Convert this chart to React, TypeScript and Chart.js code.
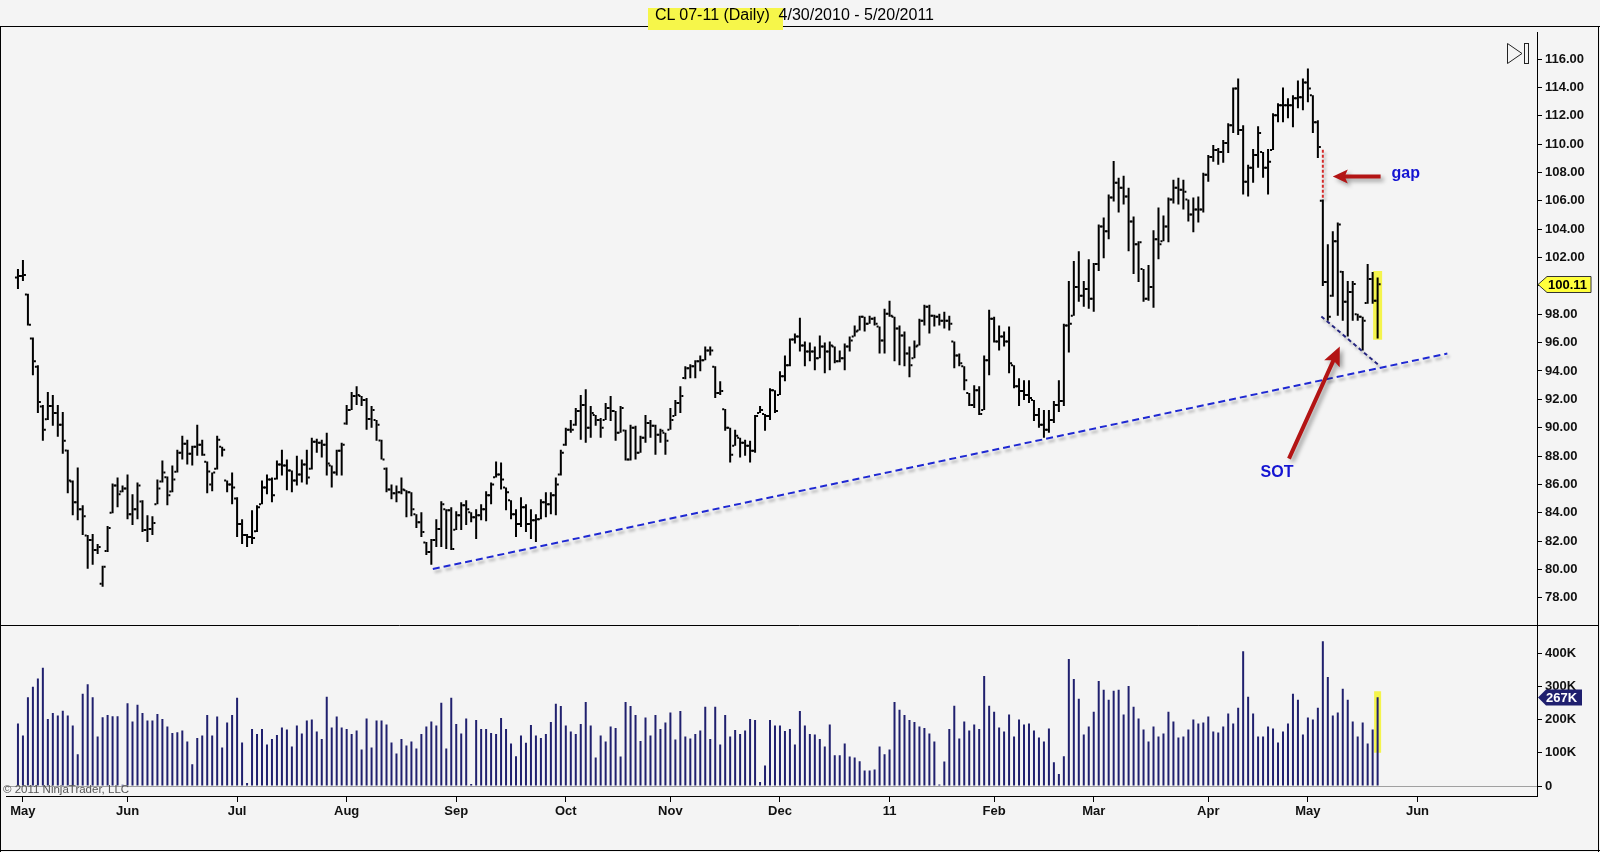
import { useEffect, useRef } from "react";
import { Chart, registerables } from "chart.js";

Chart.register(...registerables);

const FONT = "'Liberation Sans', Arial, sans-serif";
Chart.defaults.font.family = FONT;

// CL 07-11 daily bars, 4/30/2010 - 5/20/2011 (one entry per session, holidays included)
const highs = [
  101.19, 101.82, 99.44, 96.36, 94.4, 91.6, 92.51, 92.3, 91.6, 91.11,
  88.45, 86.28, 87.19, 84.53, 82.43, 82.5, 81.8, 80.26, 83.06, 86.07,
  86.49, 85.93, 86.7, 85.3, 86.14, 84.88, 83.83, 83.76, 86.35, 87.68,
  86.56, 87.33, 88.45, 89.43, 89.15, 88.73, 90.2, 89.15, 87.61, 86.84,
  89.43, 88.66, 86.28, 86.84, 85.09, 83.55, 82.5, 84.18, 84.53, 86.28,
  86.7, 86.49, 87.68, 88.45, 87.75, 86.98, 88.03, 87.75, 88.45, 89.29,
  89.22, 89.15, 89.64, 87.33, 88.45, 88.94, 91.6, 92.51, 92.93, 92.23,
  92.09, 91.53, 90.55, 89.15, 87.19, 86.0, 85.93, 86.49, 85.58, 85.44,
  83.9, 84.04, 81.94, 82.15, 83.55, 84.81, 84.25, 84.39, 84.11, 84.74,
  84.88, 84.04, 84.25, 84.6, 85.51, 86.14, 87.61, 87.54, 85.79, 84.88,
  84.25, 85.09, 84.6, 84.25, 83.9, 84.95, 85.44, 85.44, 86.49, 88.45,
  89.99, 90.55, 91.39, 92.3, 92.72, 91.53, 90.9, 90.69, 91.74, 92.23,
  91.18, 91.53, 89.85, 90.2, 90.13, 89.43, 90.9, 90.55, 90.2, 89.92,
  89.64, 91.39, 91.95, 92.93, 94.33, 94.47, 94.75, 95.1, 95.73, 95.73,
  94.33, 93.28, 91.32, 89.99, 89.85, 89.29, 89.15, 89.08, 90.9, 91.53,
  90.97, 92.79, 92.65, 93.98, 95.1, 96.29, 96.64, 97.76, 96.08, 96.01,
  95.73, 96.5, 96.01, 96.08, 95.73, 95.45, 95.94, 96.43, 97.2, 97.9,
  97.83, 97.9, 97.83, 97.13, 98.39, 98.95, 97.83, 97.2, 96.78, 95.73,
  96.15, 97.69, 98.67, 98.67, 97.97, 98.04, 98.18, 97.9, 96.08, 95.24,
  94.33, 92.44, 93.0, 92.93, 95.1, 98.32, 97.83, 97.2, 96.78, 97.13,
  94.4, 93.49, 93.35, 93.35, 91.95, 91.39, 91.25, 91.25, 91.88, 93.35,
  97.34, 100.35, 101.75, 102.45, 100.35, 101.89, 101.61, 104.34, 104.83, 106.44,
  108.82, 107.63, 107.77, 106.93, 104.9, 103.15, 101.19, 101.47, 103.92, 105.53,
  104.97, 106.23, 107.49, 107.63, 107.49, 106.09, 106.23, 106.3, 107.98, 109.24,
  109.94, 109.73, 110.29, 111.48, 114.0, 114.63, 111.34, 108.54, 109.66, 111.27,
  109.45, 109.66, 112.18, 112.88, 114.0, 113.23, 113.44, 114.49, 114.63, 115.33,
  113.44, 111.69, 106.09, 102.94, 103.85, 104.48, 101.05, 100.35, 100.35, 98.04,
  97.83, 101.54, 100.98, 100.6,
];

const lows = [
  99.79, 100.35, 97.2, 93.7, 91.04, 89.08, 90.55, 90.13, 89.36, 88.17,
  85.37, 83.83, 83.48, 82.43, 80.05, 80.33, 81.1, 78.79, 81.24, 83.97,
  84.39, 85.44, 83.55, 83.13, 83.55, 82.64, 81.94, 82.43, 84.6, 86.14,
  84.53, 85.44, 86.84, 87.75, 87.4, 87.33, 88.03, 88.03, 85.37, 85.51,
  87.05, 87.96, 85.44, 84.6, 82.29, 81.8, 81.59, 81.8, 82.64, 84.6,
  85.3, 84.74, 86.35, 86.63, 85.58, 85.44, 85.93, 86.14, 86.0, 87.05,
  88.24, 87.89, 86.63, 85.79, 86.63, 86.63, 90.2, 91.25, 91.6, 91.53,
  89.85, 89.99, 89.08, 87.75, 85.44, 84.95, 84.74, 85.3, 83.69, 83.76,
  82.92, 82.29, 81.03, 80.33, 81.59, 81.59, 81.45, 81.38, 82.78, 82.78,
  83.13, 83.34, 82.15, 83.48, 83.41, 84.6, 86.49, 85.65, 84.18, 83.55,
  82.29, 82.99, 82.64, 82.15, 81.94, 83.55, 83.69, 83.9, 83.83, 86.63,
  88.73, 89.64, 90.13, 89.15, 88.94, 89.29, 90.13, 89.29, 90.55, 90.48,
  89.08, 89.64, 87.68, 87.68, 87.75, 88.24, 88.94, 89.29, 88.1, 88.94,
  88.1, 89.85, 90.83, 91.04, 93.42, 93.49, 93.49, 93.98, 94.75, 95.1,
  92.09, 92.3, 89.78, 87.54, 88.73, 87.89, 88.03, 87.54, 88.24, 91.04,
  89.78, 90.55, 91.04, 92.3, 93.28, 94.33, 95.94, 95.38, 94.33, 94.68,
  94.05, 94.89, 93.84, 94.05, 94.54, 94.61, 94.05, 95.38, 96.43, 96.85,
  96.78, 97.34, 97.2, 95.24, 95.24, 97.83, 94.68, 94.4, 94.33, 93.56,
  94.89, 95.8, 97.2, 96.64, 97.13, 97.2, 96.99, 96.85, 94.19, 94.33,
  92.65, 91.53, 91.39, 90.9, 91.25, 93.7, 96.01, 95.45, 95.73, 93.84,
  92.79, 91.53, 91.95, 91.74, 90.48, 89.99, 89.29, 89.64, 90.34, 91.11,
  91.53, 95.31, 97.9, 98.88, 98.53, 98.39, 98.18, 101.05, 101.96, 103.29,
  105.95, 105.18, 105.74, 102.45, 100.84, 100.28, 98.88, 98.95, 98.46, 101.89,
  103.15, 103.08, 105.81, 105.74, 105.39, 104.55, 103.78, 104.48, 105.18, 107.35,
  108.75, 108.54, 108.68, 109.38, 110.78, 110.64, 106.44, 106.3, 107.28, 108.33,
  107.63, 106.44, 109.59, 111.55, 111.55, 111.83, 111.2, 112.53, 112.39, 112.95,
  110.78, 109.03, 100.0, 97.55, 99.23, 97.9, 97.55, 96.43, 97.55, 97.55,
  95.45, 98.74, 98.74, 96.29,
];

const opens = [
  100.6, 100.7, 99.4, 96.3, 94.3, 91.5, 90.6, 91.53, 91.04, 90.2,
  88.4, 86.2, 84.74, 84.25, 82.4, 82.08, 81.38, 79.0, 81.3, 84.0,
  85.93, 85.5, 85.72, 83.9, 84.25, 84.8, 82.78, 82.85, 84.6, 86.2,
  86.5, 85.5, 86.9, 88.24, 88.87, 88.17, 88.66, 88.8, 87.6, 86.0,
  87.1, 88.66, 86.28, 86.0, 85.0, 83.2, 82.43, 82.29, 82.7, 84.6,
  85.79, 86.35, 86.4, 87.4, 87.33, 86.98, 86.28, 86.7, 87.4, 87.1,
  89.01, 88.94, 88.8, 87.33, 86.84, 88.38, 90.3, 91.25, 92.23, 92.23,
  91.95, 90.62, 90.55, 89.1, 87.1, 85.65, 85.37, 85.44, 85.58, 85.44,
  83.9, 83.34, 81.9, 81.24, 82.08, 82.85, 84.25, 84.18, 82.8, 83.83,
  84.53, 84.04, 83.69, 83.83, 84.25, 85.23, 86.5, 86.7, 85.79, 84.88,
  83.9, 83.2, 84.39, 83.2, 83.48, 83.55, 84.74, 84.6, 85.23, 86.7,
  88.8, 89.85, 90.2, 91.18, 91.6, 89.99, 90.9, 90.55, 90.55, 91.39,
  91.18, 89.64, 89.8, 87.75, 89.99, 88.24, 89.29, 90.34, 90.13, 89.5,
  89.64, 89.85, 90.83, 91.74, 93.5, 94.19, 94.33, 94.68, 94.75, 95.45,
  94.3, 92.44, 91.3, 89.99, 88.73, 89.29, 88.94, 88.73, 88.38, 91.04,
  90.97, 90.83, 92.65, 92.3, 93.63, 94.4, 96.22, 96.43, 95.8, 95.38,
  95.38, 94.89, 95.73, 95.38, 95.73, 94.68, 94.89, 95.73, 96.43, 96.85,
  97.83, 97.34, 97.69, 97.13, 96.15, 98.04, 97.83, 96.99, 96.5, 95.24,
  94.89, 95.8, 97.55, 98.53, 97.9, 97.83, 97.55, 97.55, 96.08, 95.1,
  94.33, 92.44, 91.6, 92.65, 91.25, 94.75, 97.69, 96.08, 96.43, 96.08,
  94.4, 92.93, 92.58, 92.3, 91.95, 90.9, 90.2, 89.85, 90.55, 91.6,
  91.88, 97.2, 97.9, 99.93, 99.3, 99.79, 99.09, 101.54, 104.2, 103.85,
  106.23, 107.28, 106.93, 106.3, 104.55, 102.94, 101.19, 99.09, 99.93, 103.29,
  103.15, 104.2, 106.09, 106.93, 106.79, 106.09, 105.04, 105.39, 105.39, 107.84,
  109.1, 109.59, 109.45, 110.08, 111.34, 113.93, 110.99, 107.35, 108.33, 109.24,
  109.45, 108.33, 109.59, 112.04, 112.74, 112.74, 112.74, 113.23, 113.3, 114.35,
  113.44, 111.55, 106.0, 100.28, 99.3, 103.15, 101.0, 98.88, 99.58, 98.0,
  97.83, 98.8, 100.49, 98.95,
];

const closes = [
  100.7, 100.77, 97.27, 94.68, 91.81, 89.85, 91.53, 91.04, 90.2, 89.08,
  86.28, 84.74, 84.25, 83.76, 82.08, 81.38, 81.59, 80.19, 82.92, 85.93,
  85.3, 85.72, 83.9, 84.25, 85.93, 82.78, 82.85, 83.27, 85.72, 86.84,
  85.23, 86.35, 88.24, 88.87, 88.17, 88.66, 88.8, 88.1, 86.91, 86.84,
  89.15, 88.45, 86.0, 85.79, 83.2, 82.43, 82.29, 82.22, 84.39, 85.79,
  86.35, 85.23, 87.4, 87.33, 86.98, 86.28, 86.7, 87.4, 86.49, 89.01,
  88.94, 88.8, 87.47, 86.84, 88.38, 88.8, 91.25, 92.23, 92.3, 91.95,
  90.62, 91.25, 90.2, 87.75, 85.65, 85.37, 85.44, 85.65, 85.44, 84.25,
  83.34, 82.64, 81.24, 82.08, 82.85, 84.6, 84.18, 81.45, 83.83, 84.53,
  84.25, 83.69, 83.83, 84.25, 85.23, 86.0, 86.7, 86.35, 85.44, 83.9,
  83.2, 84.39, 83.2, 83.48, 83.55, 84.74, 84.6, 85.23, 86.0, 88.24,
  89.85, 89.85, 91.18, 91.6, 89.99, 91.04, 90.55, 89.99, 91.39, 91.18,
  89.64, 91.39, 87.75, 89.99, 88.24, 89.29, 90.34, 90.13, 89.5, 89.78,
  89.08, 90.55, 91.74, 92.23, 94.19, 94.33, 94.68, 94.75, 95.45, 95.45,
  92.44, 92.58, 89.99, 88.1, 89.43, 88.94, 88.73, 88.38, 90.83, 91.25,
  90.83, 92.65, 91.18, 93.63, 94.4, 96.22, 96.43, 95.8, 95.38, 95.38,
  94.89, 95.73, 95.38, 95.8, 94.68, 94.89, 95.73, 96.15, 96.78, 97.83,
  97.34, 97.69, 97.34, 96.15, 98.04, 97.9, 96.99, 96.5, 95.24, 94.4,
  95.73, 97.55, 98.53, 97.9, 97.83, 97.55, 97.55, 97.34, 95.1, 94.54,
  93.35, 91.6, 92.65, 90.97, 94.75, 97.69, 96.08, 96.43, 96.08, 94.54,
  92.93, 92.58, 92.3, 92.09, 90.9, 90.2, 89.85, 90.55, 91.6, 91.88,
  97.2, 97.34, 99.93, 99.3, 99.79, 99.09, 101.54, 104.2, 103.85, 106.23,
  107.28, 106.93, 106.3, 104.55, 102.94, 103.08, 99.09, 99.93, 103.29, 102.94,
  104.2, 106.09, 106.93, 106.79, 106.65, 105.04, 105.39, 105.39, 107.84, 109.1,
  109.59, 109.45, 110.08, 111.34, 113.93, 110.99, 107.35, 108.33, 109.24, 110.78,
  108.33, 108.75, 112.04, 112.74, 112.74, 112.74, 113.23, 113.3, 114.35, 113.93,
  111.55, 109.8, 100.28, 97.83, 103.15, 104.34, 98.88, 99.58, 100.14, 97.83,
  97.55, 100.49, 98.95, 100.11,
];

// volume in thousands of contracts
const volumesK = [
  188, 152, 267, 299, 324, 356, 202, 220, 212, 227,
  212, 182, 96, 278, 306, 267, 149, 207, 214, 210,
  210, 4, 249, 194, 245, 220, 197, 197, 217, 202,
  179, 160, 162, 167, 134, 66, 145, 152, 214, 152,
  209, 116, 191, 214, 266, 131, 9, 172, 157, 172,
  125, 142, 154, 176, 170, 119, 182, 158, 197, 200,
  164, 142, 269, 176, 209, 176, 172, 157, 167, 110,
  203, 116, 197, 197, 185, 131, 98, 142, 122, 134,
  113, 157, 179, 194, 182, 251, 113, 266, 187, 158,
  203, 6, 199, 172, 172, 160, 157, 205, 172, 128,
  90, 152, 130, 184, 152, 145, 157, 193, 248, 241,
  182, 164, 157, 187, 253, 182, 86, 152, 134, 179,
  175, 89, 253, 241, 214, 136, 206, 152, 214, 172,
  191, 221, 140, 226, 149, 143, 157, 167, 239, 142,
  239, 125, 214, 149, 169, 157, 167, 202, 199, 12,
  62, 199, 182, 182, 166, 172, 125, 226, 182, 157,
  155, 142, 119, 185, 93, 93, 128, 89, 86, 75,
  47, 47, 50, 119, 96, 110, 253, 230, 214, 199,
  193, 179, 175, 158, 134, 5, 74, 172, 242, 143,
  194, 167, 185, 172, 331, 242, 224, 176, 164, 215,
  149, 200, 185, 188, 167, 146, 134, 173, 72, 36,
  90, 382, 322, 263, 155, 179, 224, 316, 290, 260,
  287, 290, 215, 301, 239, 203, 170, 134, 179, 149,
  158, 224, 194, 146, 149, 170, 200, 188, 191, 209,
  164, 161, 179, 218, 188, 236, 406, 269, 218, 149,
  149, 179, 173, 131, 164, 188, 278, 260, 155, 206,
  200, 236, 436, 328, 212, 221, 293, 260, 194, 149,
  191, 128, 170, 267,
];

// first session of each month on the bar index axis
const monthStarts = [1, 22, 44, 66, 88, 110, 131, 153, 175, 196, 216, 239, 259, 281];
const monthLabels = ["May", "Jun", "Jul", "Aug", "Sep", "Oct", "Nov", "Dec", "11", "Feb", "Mar", "Apr", "May", "Jun"];

const priceTicks = [78, 80, 82, 84, 86, 88, 90, 92, 94, 96, 98, 100, 102, 104, 106, 108, 110, 112, 114, 116];
const volumeTicks = [0, 100000, 200000, 300000, 400000];

// drawings on the chart, in (bar index, price)
const supportLine = [{ x: 83.3, y: 80.03 }, { x: 287, y: 95.23 }];
const sotLine = [{ x: 261.7, y: 97.85 }, { x: 273.1, y: 94.45 }];
const gapLine = [{ x: 262, y: 109.6 }, { x: 262, y: 106.1 }];
const gapArrow = { from: { x: 273.6, y: 107.71 }, to: { x: 264, y: 107.71 } };
const sotArrow = { from: { x: 255.2, y: 87.82 }, to: { x: 265.4, y: 95.73 } };
const gapText = { x: 275.8, y: 107.9, text: "gap" };
const sotText = { x: 252.8, y: 86.84, text: "SOT" };

// yellow highlight behind the last bar
const lastPriceBand = [96.2, 101.05];
const lastVolumeBand = [100000, 285000];

const drawArrow = (ctx: any, x1: number, y1: number, x2: number, y2: number, shaft: number, headL: number, headW: number) => {
  const ang = Math.atan2(y2 - y1, x2 - x1);
  const len = Math.hypot(x2 - x1, y2 - y1);
  ctx.save();
  ctx.translate(x2, y2);
  ctx.rotate(ang);
  ctx.beginPath();
  ctx.moveTo(0, 0);
  ctx.lineTo(-headL, -headW / 2);
  ctx.lineTo(-headL * 0.85, -shaft / 2);
  ctx.lineTo(-len, -shaft / 2);
  ctx.lineTo(-len, shaft / 2);
  ctx.lineTo(-headL * 0.85, shaft / 2);
  ctx.lineTo(-headL, headW / 2);
  ctx.closePath();
  ctx.fill();
  ctx.restore();
};

const chartDecor = {
  id: "chartDecor",
  beforeDatasetDraw(chart: any, args: any) {
    const ds = chart.data.datasets[args.index];
    if (ds.shadow) {
      const c = chart.ctx;
      c.save();
      c.shadowColor = "rgba(0,0,0,0.3)";
      c.shadowBlur = 3;
      c.shadowOffsetX = 2;
      c.shadowOffsetY = 3;
    }
  },
  afterDatasetDraw(chart: any, args: any) {
    if (chart.data.datasets[args.index].shadow) chart.ctx.restore();
  },
  afterDatasetsDraw(chart: any) {
    const { ctx, scales } = chart;
    const px = (v: number) => scales.x.getPixelForValue(v);
    const py = (v: number) => scales.y.getPixelForValue(v);
    ctx.save();
    ctx.shadowColor = "rgba(0,0,0,0.35)";
    ctx.shadowBlur = 4;
    ctx.shadowOffsetX = 3;
    ctx.shadowOffsetY = 3;
    ctx.fillStyle = "#b31414";
    drawArrow(ctx, px(gapArrow.from.x), py(gapArrow.from.y), px(gapArrow.to.x), py(gapArrow.to.y), 4, 15, 14);
    drawArrow(ctx, px(sotArrow.from.x), py(sotArrow.from.y), px(sotArrow.to.x), py(sotArrow.to.y), 4, 19, 17);
    ctx.restore();

    ctx.save();
    ctx.fillStyle = "#1414d2";
    ctx.font = `bold 16px ${FONT}`;
    ctx.textBaseline = "middle";
    ctx.textAlign = "left";
    ctx.fillText(gapText.text, px(gapText.x), py(gapText.y));
    ctx.textAlign = "center";
    ctx.fillText(sotText.text, px(sotText.x), py(sotText.y));
    ctx.restore();
  },
  afterDraw(chart: any) {
    const { ctx, chartArea, scales } = chart;
    const W = chart.width;
    const H = chart.height;
    const last = closes.length - 1;
    ctx.save();
    // panel frames
    ctx.strokeStyle = "#000";
    ctx.lineWidth = 1;
    ctx.beginPath();
    ctx.moveTo(0, 0.5);
    ctx.lineTo(W, 0.5);
    ctx.moveTo(0.5, 0);
    ctx.lineTo(0.5, H);
    ctx.moveTo(W - 1.5, 0);
    ctx.lineTo(W - 1.5, H);
    ctx.moveTo(0, H - 1.5);
    ctx.lineTo(W, H - 1.5);
    const sep = Math.round(scales.yv.top) + 0.5;
    ctx.moveTo(0, sep);
    ctx.lineTo(W - 1.5, sep);
    ctx.stroke();

    // "scroll to end" icon
    const R = chartArea.right;
    const T = chartArea.top;
    ctx.strokeStyle = "#222";
    ctx.beginPath();
    ctx.moveTo(R - 29.5, T + 11.5);
    ctx.lineTo(R - 29.5, T + 31.5);
    ctx.lineTo(R - 15, T + 21.5);
    ctx.closePath();
    ctx.stroke();
    ctx.strokeRect(R - 12.5, T + 11.5, 4, 20);

    // last price marker
    const ax = chartArea.right + 1;
    const yp = Math.round(scales.y.getPixelForValue(closes[last])) + 0.5;
    ctx.beginPath();
    ctx.moveTo(ax, yp);
    ctx.lineTo(ax + 9, yp - 8);
    ctx.lineTo(ax + 53, yp - 8);
    ctx.lineTo(ax + 53, yp + 8);
    ctx.lineTo(ax + 9, yp + 8);
    ctx.closePath();
    ctx.fillStyle = "#ffff3c";
    ctx.fill();
    ctx.strokeStyle = "#333";
    ctx.stroke();
    ctx.fillStyle = "#000";
    ctx.font = `bold 13px ${FONT}`;
    ctx.textBaseline = "middle";
    ctx.textAlign = "left";
    ctx.fillText(closes[last].toFixed(2), ax + 10, yp + 0.5);

    // last volume marker
    const yv = Math.round(scales.yv.getPixelForValue(volumesK[last] * 1000)) + 0.5;
    ctx.beginPath();
    ctx.moveTo(ax, yv);
    ctx.lineTo(ax + 8, yv - 8);
    ctx.lineTo(ax + 44, yv - 8);
    ctx.lineTo(ax + 44, yv + 8);
    ctx.lineTo(ax + 8, yv + 8);
    ctx.closePath();
    ctx.fillStyle = "#1f1f6e";
    ctx.fill();
    ctx.fillStyle = "#fff";
    ctx.fillText(`${volumesK[last]}K`, ax + 8, yv + 0.5);
    ctx.restore();
  },
};

const tickFont = { family: FONT, size: 13, weight: "bold" as const };

const App = () => {
  const canvasRef = useRef<HTMLCanvasElement | null>(null);

  useEffect(() => {
    if (!canvasRef.current) return;
    const idx = closes.map((_, i) => i);
    const last = closes.length - 1;

    const chart = new Chart(canvasRef.current, {
      type: "bar",
      data: {
        datasets: [
          {
            type: "bar",
            label: "Range",
            data: idx.map((i) => ({ x: i, y: [lows[i], highs[i]] })) as any,
            backgroundColor: "#000",
            barThickness: 2,
            grouped: false,
            inflateAmount: 0,
            yAxisID: "y",
            order: 1,
          },
          {
            type: "scatter",
            label: "Open",
            data: idx.map((i) => ({ x: i - 0.4, y: opens[i] })),
            pointStyle: "line",
            pointRadius: 1,
            borderColor: "#000",
            borderWidth: 2,
            yAxisID: "y",
            order: 1,
          },
          {
            type: "scatter",
            label: "Close",
            data: idx.map((i) => ({ x: i + 0.4, y: closes[i] })),
            pointStyle: "line",
            pointRadius: 1,
            borderColor: "#000",
            borderWidth: 2,
            yAxisID: "y",
            order: 1,
          },
          {
            type: "bar",
            label: "Volume",
            data: idx.map((i) => ({ x: i, y: volumesK[i] * 1000 })),
            backgroundColor: "#20206e",
            barThickness: 2,
            grouped: false,
            inflateAmount: 0,
            yAxisID: "yv",
            order: 1,
          },
          {
            type: "bar",
            label: "LastBar",
            data: [{ x: last, y: lastPriceBand }] as any,
            backgroundColor: "#f4f44c",
            barThickness: 9,
            grouped: false,
            inflateAmount: 0,
            yAxisID: "y",
            order: 5,
          },
          {
            type: "bar",
            label: "LastVol",
            data: [{ x: last, y: lastVolumeBand }] as any,
            backgroundColor: "#f4f44c",
            barThickness: 7,
            grouped: false,
            inflateAmount: 0,
            yAxisID: "yv",
            order: 5,
          },
          {
            type: "line",
            label: "Support",
            data: supportLine,
            borderColor: "#1e28d2",
            borderWidth: 2,
            borderDash: [7, 4],
            pointRadius: 0,
            fill: false,
            yAxisID: "y",
            order: 0,
            shadow: true,
          } as any,
          {
            type: "line",
            label: "SOT line",
            data: sotLine,
            borderColor: "#262680",
            borderWidth: 2,
            borderDash: [4, 3],
            pointRadius: 0,
            fill: false,
            yAxisID: "y",
            order: 0,
            shadow: true,
          } as any,
          {
            type: "line",
            label: "Gap",
            data: gapLine,
            borderColor: "#d42a2a",
            borderWidth: 2,
            borderDash: [3, 2],
            pointRadius: 0,
            fill: false,
            yAxisID: "y",
            order: 0,
            shadow: true,
          } as any,
        ],
      },
      options: {
        animation: false,
        responsive: false,
        maintainAspectRatio: false,
        events: [],
        layout: { padding: 0 },
        plugins: { legend: { display: false }, tooltip: { enabled: false } },
        scales: {
          y: {
            type: "linear",
            position: "right",
            stack: "panes",
            stackWeight: 598,
            min: 76.06,
            max: 117.91,
            afterBuildTicks: (s: any) => {
              s.ticks = priceTicks.map((v) => ({ value: v }));
            },
            afterFit: (s: any) => {
              s.width = 63;
              s.paddingTop = 0;
              s.paddingBottom = 0;
            },
            ticks: {
              autoSkip: false,
              callback: (v: any) => Number(v).toFixed(2),
              padding: 3,
              color: "#111",
              font: tickFont,
            },
            grid: { drawOnChartArea: false, tickLength: 5, tickColor: "#000", color: "#000" },
            border: { display: true, color: "#000" },
          },
          yv: {
            type: "linear",
            position: "right",
            stack: "panes",
            stackWeight: 172,
            min: -29850,
            max: 483600,
            afterBuildTicks: (s: any) => {
              s.ticks = volumeTicks.map((v) => ({ value: v }));
            },
            afterFit: (s: any) => {
              s.width = 63;
              s.paddingTop = 0;
              s.paddingBottom = 0;
            },
            ticks: {
              autoSkip: false,
              callback: (v: any) => (Number(v) === 0 ? "0" : `${Number(v) / 1000}K`),
              padding: 3,
              color: "#111",
              font: tickFont,
            },
            grid: {
              drawOnChartArea: true,
              tickLength: 5,
              tickColor: "#000",
              color: (c: any) => (c.tick && c.tick.value === 0 ? "#a0a0a0" : "rgba(0,0,0,0)"),
            },
            border: { display: true, color: "#000" },
          },
          x: {
            type: "linear",
            position: "bottom",
            min: -2.4,
            max: 305,
            offset: false,
            afterBuildTicks: (s: any) => {
              s.ticks = monthStarts.map((v) => ({ value: v }));
            },
            afterFit: (s: any) => {
              s.height = 56;
              s.paddingLeft = 0;
              s.paddingRight = 0;
            },
            ticks: {
              autoSkip: false,
              maxRotation: 0,
              padding: 2,
              color: "#111",
              font: tickFont,
              callback: (_v: any, i: number) => monthLabels[i],
            },
            grid: { drawOnChartArea: false, offset: false, tickLength: 6, tickColor: "#000", color: "#000" },
            border: { display: true, color: "#000" },
          },
        },
      } as any,
      plugins: [chartDecor],
    });

    return () => {
      chart.destroy();
    };
  }, []);

  return (
    <div
      style={{
        position: "fixed",
        left: 0,
        top: 0,
        width: 1600,
        height: 852,
        background: "#f4f4f4",
        overflow: "hidden",
        fontFamily: FONT,
      }}
    >
      <canvas
        ref={canvasRef}
        width={1600}
        height={826}
        style={{ position: "absolute", left: 0, top: 26, width: 1600, height: 826 }}
      />
      <div style={{ position: "absolute", left: 648, top: 8, width: 135, height: 22, background: "#f6f64a" }} />
      <div
        style={{
          position: "absolute",
          left: 655,
          top: 4,
          height: 22,
          lineHeight: "22px",
          fontSize: 16,
          color: "#000",
          whiteSpace: "pre",
        }}
      >
        {"CL 07-11 (Daily)  4/30/2010 - 5/20/2011"}
      </div>
      <div
        style={{
          position: "absolute",
          left: 3,
          top: 784,
          fontSize: 11.5,
          lineHeight: "11px",
          color: "#555",
          whiteSpace: "pre",
        }}
      >
        {"\u00a9 2011 NinjaTrader, LLC"}
      </div>
    </div>
  );
};

export default App;
